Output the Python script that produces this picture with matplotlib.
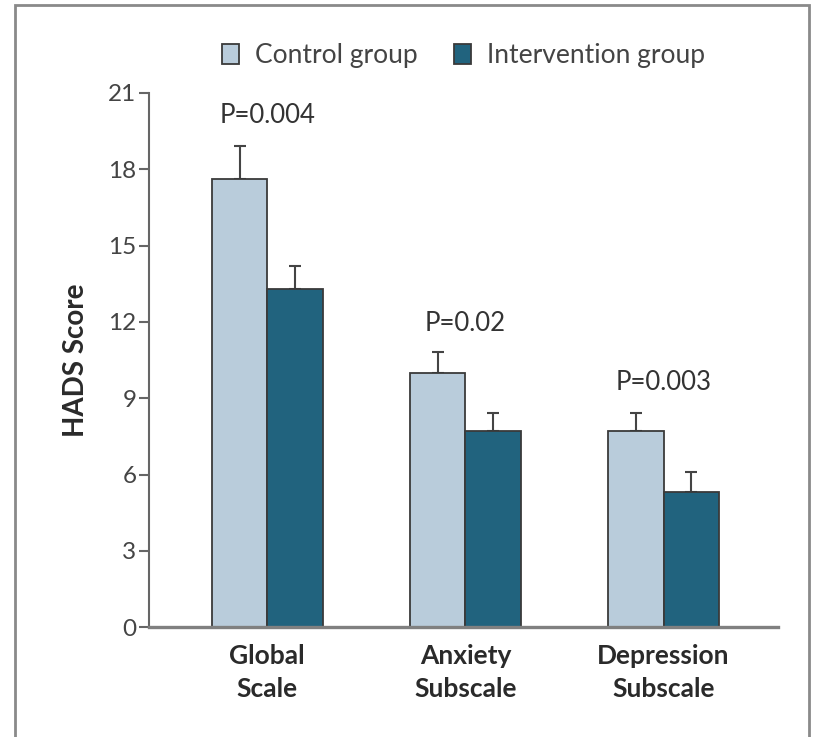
import matplotlib
matplotlib.use("Agg")
import matplotlib.pyplot as plt
import matplotlib.patches as patches
import numpy as np

# datos
categorias = ["Global\nScale", "Anxiety\nSubscale", "Depression\nSubscale"]
control = [17.6, 10.0, 7.7]
control_err = [1.3, 0.8, 0.7]
intervencion = [13.3, 7.7, 5.3]
intervencion_err = [0.9, 0.7, 0.8]
p_valores = ["P=0.004", "P=0.02", "P=0.003"]
p_altura = [20.1, 11.95, 9.6]
yticks = [0, 3, 6, 9, 12, 15, 18, 21]

plt.rcParams["font.family"] = ["Lato", "DejaVu Sans"]

color_control = "#b9ccdb"
color_interv = "#21637e"
borde = "#3a3a3a"
texto = "#333333"

fig = plt.figure(figsize=(8.13, 7.37), dpi=100)
ax = fig.add_axes([0.183, 0.149, 0.774, 0.725])

x = np.arange(len(categorias))
ancho = 0.28

b1 = ax.bar(x - ancho / 2, control, ancho, color=color_control,
            edgecolor=borde, linewidth=1.3, label="Control group", zorder=2)
b2 = ax.bar(x + ancho / 2, intervencion, ancho, color=color_interv,
            edgecolor=borde, linewidth=1.3, label="Intervention group", zorder=2)

# barras de error solo hacia arriba
ax.errorbar(x - ancho / 2, control, yerr=[np.zeros(3), control_err],
            fmt="none", ecolor="#444444", elinewidth=1.5, capsize=4,
            capthick=1.5, zorder=1)
ax.errorbar(x + ancho / 2, intervencion, yerr=[np.zeros(3), intervencion_err],
            fmt="none", ecolor="#444444", elinewidth=1.5, capsize=4,
            capthick=1.5, zorder=1)

for xi, p, h in zip(x, p_valores, p_altura):
    ax.text(xi, h, p, ha="center", va="center", fontsize=18.5, color=texto)

ax.set_xlim(-0.598, 2.578)
ax.set_ylim(0, 21)
ax.set_yticks(yticks)
ax.set_yticklabels([str(v) for v in yticks], fontsize=17.5, color="#444444")
ax.set_xticks(x)
ax.set_xticklabels(categorias, fontsize=19, fontweight="bold",
                   color="#2a2a2a", linespacing=1.45)
ax.tick_params(axis="x", length=0, pad=12)
ax.tick_params(axis="y", length=7, width=1.5, color="#666666", pad=2)

ax.spines["top"].set_visible(False)
ax.spines["right"].set_visible(False)
ax.spines["left"].set_color("#666666")
ax.spines["left"].set_linewidth(1.5)
ax.spines["bottom"].set_color("#808080")
ax.spines["bottom"].set_linewidth(2.4)
ax.spines["bottom"].set_zorder(3)

ax.set_ylabel("HADS Score", fontsize=20, fontweight="bold", color="#2a2a2a",
              labelpad=14)

fig.legend(handles=[b1, b2], loc="center", bbox_to_anchor=(0.57, 0.925),
           ncol=2, frameon=False, fontsize=19, handlelength=0.65,
           handleheight=0.8, handletextpad=0.6, columnspacing=1.4,
           labelcolor="#444444")

# marco exterior
fig.patches.append(patches.Rectangle((0.018, -0.02), 0.977, 1.013,
                                     transform=fig.transFigure, fill=False,
                                     edgecolor="#8a8a8a", linewidth=2))

plt.savefig("out.png", dpi=100)
